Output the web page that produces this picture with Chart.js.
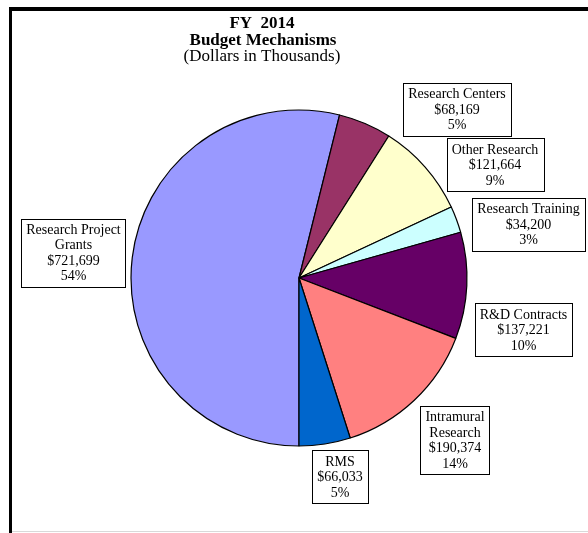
<!DOCTYPE html>
<html>
<head>
<meta charset="utf-8">
<script src="https://cdn.jsdelivr.net/npm/chart.js@4/dist/chart.umd.min.js"></script>
<style>
  html, body { margin: 0; padding: 0; background: #fff; }
  #wrap { position: relative; width: 588px; height: 533px; }
  canvas { display: block; }
</style>
</head>
<body>
<div id="wrap"><canvas id="c" width="588" height="533"></canvas></div>
<script>
// ---- data ----
const categories = [
  ["Research Project", "Grants"],
  ["Research Centers"],
  ["Other Research"],
  ["Research Training"],
  ["R&D Contracts"],
  ["Intramural", "Research"],
  ["RMS"]
];
const values = [721699, 68169, 121664, 34200, 137221, 190374, 66033];
const sliceColors = ["#9999FF", "#993366", "#FFFFCC", "#CCFFFF", "#660066", "#FF8080", "#0066CC"];
const titleLines = ["FY  2014", "Budget Mechanisms", "(Dollars in Thousands)"];

// label box centres (layout only)
const labelCenters = [
  [73.5, 252.5], [457, 109], [495, 164.5], [528.5, 224],
  [523.5, 329.5], [455, 440], [340, 476.5]
];

const total = values.reduce((a, b) => a + b, 0);
const fmt = v => "$" + v.toLocaleString("en-US");
const FONT = '"Liberation Serif", "Times New Roman", serif';

const framePlugin = {
  id: "frame",
  beforeDraw(chart) {
    const ctx = chart.ctx;
    ctx.save();
    ctx.fillStyle = "#fff";
    ctx.fillRect(0, 0, chart.width, chart.height);
    ctx.fillStyle = "#000";
    ctx.fillRect(9, 7, chart.width - 9, 4);
    ctx.fillRect(9, 7, 3, chart.height - 7);
    ctx.fillStyle = "#d9d9d9";
    ctx.fillRect(12, 531, chart.width - 12, 1);
    // title
    ctx.fillStyle = "#000";
    ctx.textAlign = "center";
    ctx.textBaseline = "middle";
    ctx.font = "bold 17px " + FONT;
    ctx.fillText(titleLines[0], 262, 24);
    ctx.fillText(titleLines[1], 263, 41);
    ctx.font = "17px " + FONT;
    ctx.fillText(titleLines[2], 262, 57);
    ctx.restore();
  }
};

const labelPlugin = {
  id: "boxLabels",
  afterDatasetsDraw(chart) {
    const ctx = chart.ctx;
    ctx.save();
    ctx.font = "14px " + FONT;
    ctx.textAlign = "center";
    ctx.textBaseline = "middle";
    const lh = 15.5;
    values.forEach((v, i) => {
      const lines = categories[i].concat([fmt(v), Math.round(v / total * 100) + "%"]);
      const w = Math.max(...lines.map(l => ctx.measureText(l).width)) + 10;
      const h = lines.length * lh + 6;
      const [cx, cy] = labelCenters[i];
      const x = Math.round(cx - w / 2) + 0.5, y = Math.round(cy - h / 2) + 0.5;
      ctx.fillStyle = "#fff";
      ctx.fillRect(x, y, Math.round(w), Math.round(h));
      ctx.strokeStyle = "#000";
      ctx.lineWidth = 1;
      ctx.strokeRect(x, y, Math.round(w), Math.round(h));
      ctx.fillStyle = "#000";
      lines.forEach((l, k) => {
        ctx.fillText(l, cx, cy - (lines.length - 1) * lh / 2 + k * lh + 1);
      });
    });
    ctx.restore();
  }
};

new Chart(document.getElementById("c"), {
  type: "pie",
  data: {
    labels: categories.map(c => c.join(" ")),
    datasets: [{
      data: values,
      backgroundColor: sliceColors,
      borderColor: "#000",
      borderWidth: 1.2,
      borderAlign: "center"
    }]
  },
  options: {
    responsive: false,
    animation: false,
    rotation: 180,
    radius: 168,
    layout: { padding: { left: 131, right: 121, top: 110, bottom: 87 } },
    plugins: {
      legend: { display: false },
      title: { display: false },
      tooltip: { enabled: false }
    }
  },
  plugins: [framePlugin, labelPlugin]
});
</script>
</body>
</html>
